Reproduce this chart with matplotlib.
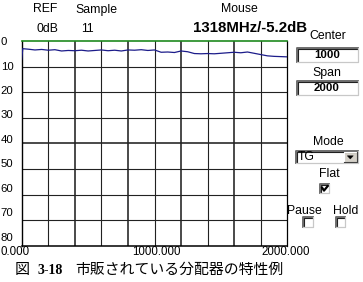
import matplotlib
matplotlib.use("Agg")
import matplotlib.pyplot as plt
from matplotlib.patches import Rectangle, Polygon
from matplotlib.lines import Line2D
import matplotlib.transforms as mtransforms

# ---------------- data ----------------
freq_mhz = [0, 8, 50, 100, 150, 200, 250, 300, 350, 400, 450, 500, 550, 600, 650,
            700, 750, 800, 850, 900, 950, 1000, 1050, 1100, 1150, 1200, 1250, 1300,
            1350, 1400, 1450, 1500, 1550, 1600, 1650, 1700, 1750, 1800, 1850, 1900,
            1950, 2000]
level_db = [-7.2, -3.0, -3.2, -3.5, -3.3, -3.6, -3.4, -3.9, -3.7, -3.8, -3.6, -3.9,
            -3.7, -3.5, -3.8, -3.6, -3.9, -3.5, -3.6, -3.4, -3.7, -3.5, -4.4, -4.3,
            -4.5, -3.9, -4.2, -4.9, -5.0, -4.9, -5.0, -4.8, -4.6, -4.4, -4.6, -4.3,
            -4.8, -5.3, -5.8, -6.0, -6.1, -6.2]
y_ticks = [0, -10, -20, -30, -40, -50, -60, -70, -80]
y_tick_labels = ["0", "10", "20", "30", "40", "50", "60", "70", "80"]
x_ticks = [0, 1000, 2000]
x_tick_labels = ["0.000", "1000.000", "2000.000"]
x_grid = [200, 400, 600, 800, 1000, 1200, 1400, 1600, 1800]

header_labels = ["REF", "Sample", "Mouse"]
header_values = ["0dB", "11", "1318MHz/-5.2dB"]
center_value = "1000"
span_value = "2000"
mode_value = "TG"
caption_fig = "図"
caption_num = "3-18"
caption_text = "市販されている分配器の特性例"

UI = "Liberation Sans"

W, H = 363, 282
fig = plt.figure(figsize=(W / 100, H / 100), dpi=100)
fig.patch.set_facecolor("white")

# main plot area (pixel box: left 21.7, right 287.3, top 41, bottom 245.7)
L, R, T, B = 21.7, 287.3, 41.0, 245.7
ax = fig.add_axes([L / W, 1 - B / H, (R - L) / W, (B - T) / H])
ax.set_xlim(0, 2000)
ax.set_ylim(-80, 0)
ax.set_facecolor("white")

for i, xv in enumerate(x_grid):
    lw = 1.15 if i % 2 == 1 else 0.8
    ax.axvline(xv, color="#222222", lw=lw, zorder=1)
for yv in y_ticks[1:-1]:
    lw = 1.15 if yv == -40 else 0.8
    ax.axhline(yv, color="#222222", lw=lw, zorder=1)

ax.plot(freq_mhz, level_db, color="#1c1c8a", lw=0.9, zorder=3)

for s in ["left", "right", "bottom"]:
    ax.spines[s].set_color("black")
ax.spines["left"].set_linewidth(1.0)
ax.spines["right"].set_linewidth(0.9)
ax.spines["bottom"].set_linewidth(1.1)
ax.spines["top"].set_color("#1f8a1f")
ax.spines["top"].set_linewidth(1.2)

# y tick labels (the instrument draws them on a slightly compressed scale)
ax.set_yticks([])
for yv, lab in zip(y_ticks, y_tick_labels):
    ax.text(-0.079, 1 + yv * 0.957 / 80 - 0.005,
            lab, transform=ax.transAxes, ha="left", va="center",
            fontsize=8.2, family=UI, color="black")

ax.set_xticks(x_ticks)
ax.set_xticklabels(x_tick_labels, fontsize=8.3, family=UI)
ax.tick_params(axis="x", length=0, pad=0.5)
offs = [-7, 2, -2]
for lab, o in zip(ax.get_xticklabels(), offs):
    lab.set_transform(lab.get_transform() +
                      mtransforms.ScaledTranslation(o / 100, 0, fig.dpi_scale_trans))

# overlay in pixel coordinates
ov = fig.add_axes([0, 0, 1, 1], zorder=5)
ov.set_xlim(0, W)
ov.set_ylim(H, 0)
ov.axis("off")
ov.patch.set_alpha(0)


def txt(x, y, s, size=8.8, weight="normal", ha="center", family=UI):
    ov.text(x, y, s, ha=ha, va="center", fontsize=size, fontweight=weight,
            family=family, color="black")


def sunken(x0, y0, x1, y1, fill="white"):
    ov.add_patch(Rectangle((x0, y0), x1 - x0, y1 - y0, facecolor=fill,
                           edgecolor="none"))
    ov.add_line(Line2D([x0, x0, x1], [y1, y0, y0], color="#6e6e6e", lw=1.4))
    ov.add_line(Line2D([x0 + 1, x0 + 1, x1 - 1], [y1 - 1, y0 + 1, y0 + 1],
                       color="#202020", lw=0.8))
    ov.add_line(Line2D([x0, x1, x1], [y1, y1, y0], color="#c8c8c8", lw=0.9))


# header
txt(45.5, 9.5, header_labels[0])
txt(96, 9.5, header_labels[1])
txt(239, 9.5, header_labels[2])
txt(47.5, 29, header_values[0])
txt(87.5, 29, header_values[1])
txt(250, 28.5, header_values[2], size=10.8, weight="bold")

# right panel
txt(328, 36, "Center")
sunken(296.7, 48.3, 357.7, 61.7)
txt(327, 55.3, center_value, size=8.2, weight="bold")
txt(327, 73, "Span")
sunken(296.7, 80.5, 357.7, 94.5)
txt(327, 87.8, span_value, size=8.2, weight="bold")

txt(328, 142, "Mode")
sunken(295.7, 150.7, 358.3, 163.3)
txt(298, 157.3, mode_value, ha="left", size=8.8)
ov.add_patch(Rectangle((343.5, 152.3), 13.5, 9.8, facecolor="#d4d0c8",
                       edgecolor="none"))
ov.add_line(Line2D([343.5, 343.5, 357], [162.1, 152.3, 152.3], color="white", lw=0.8))
ov.add_line(Line2D([343.5, 357, 357], [162.1, 162.1, 152.3], color="#404040", lw=0.8))
ov.add_patch(Polygon([[347.3, 155.8], [353.3, 155.8], [350.3, 159.0]],
                     closed=True, facecolor="black", edgecolor="black", lw=0.3))

txt(329, 174, "Flat")
sunken(320.2, 184.3, 329.4, 193.4)
ov.add_line(Line2D([322.2, 324.0, 327.6], [187.8, 190.6, 186.2], color="black", lw=1.6))

txt(304.5, 211, "Pause")
txt(345.5, 211, "Hold")
sunken(303.2, 217.2, 312.6, 226.6)
sunken(335.7, 217.2, 345.1, 226.6)

# caption
txt(14.5, 270, caption_fig, size=10.8, ha="left",
    family=["Noto Sans CJK JP", "DejaVu Sans"])
txt(38, 270.5, caption_num, size=10.0, weight="bold", ha="left",
    family="Liberation Serif")
txt(75, 270, caption_text, size=10.7, ha="left",
    family=["Noto Sans CJK JP", "DejaVu Sans"])

fig.savefig("out.png", dpi=100, facecolor="white")
